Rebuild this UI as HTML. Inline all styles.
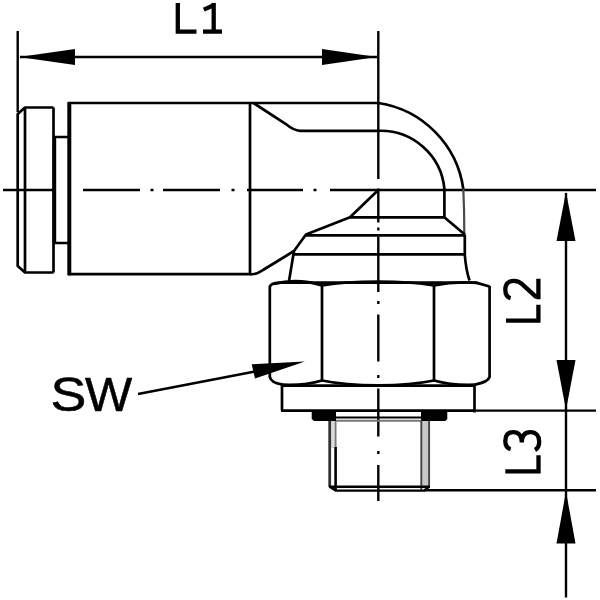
<!DOCTYPE html>
<html>
<head>
<meta charset="utf-8">
<title>Elbow fitting dimension drawing</title>
<style>
  html, body { margin: 0; padding: 0; background: #ffffff; }
  body { width: 600px; height: 600px; overflow: hidden; font-family: "Liberation Sans", sans-serif; }
  svg { display: block; position: absolute; left: 0; top: 0; filter: blur(0.35px); }
  .o { fill: none; stroke: #000; stroke-width: 2.7; stroke-linecap: butt; stroke-linejoin: round; }
  .d { fill: none; stroke: #000; stroke-width: 2.4; stroke-linecap: butt; }
  .t { fill: none; stroke: #000; stroke-width: 4.3; stroke-linecap: butt; stroke-linejoin: miter; }
  .g { fill: none; stroke: #6e6e6e; stroke-width: 2; }
  .k { fill: #000; stroke: none; }
  text { font-family: "Liberation Sans", sans-serif; fill: #000; }
</style>
</head>
<body>
<svg width="600" height="600" viewBox="0 0 600 600">
  <rect x="0" y="0" width="600" height="600" fill="#ffffff"/>

  <!-- ===== L1 dimension ===== -->
  <g id="dimL1">
    <path class="d" d="M17.7,31 V112"/>
    <path class="d" d="M20,57 H377"/>
    <path class="k" d="M19,57 L75,49 L75,65 Z"/>
    <path class="k" d="M377,57 L322,49 L322,65 Z"/>
    <!-- L -->
    <path class="t" d="M177.8,2.9 V31.6 H196.5"/>
    <!-- 1 -->
    <path class="t" d="M213.7,2.9 V31.6"/>
    <path class="t" d="M203,31.6 H222"/>
    <path class="t" d="M203.8,9.6 L213.7,5.2"/>
  </g>

  <!-- ===== centre lines ===== -->
  <g id="centre">
    <!-- horizontal -->
    <path class="d" d="M3,190 H55 M83,190 H140 M150.5,190 H153.5 M163,190 H220 M231.5,190 H234.5 M247,190 H303 M313.5,190 H316.5 M330,190 H596"/>
    <!-- vertical -->
    <path class="d" d="M378.3,31 V179 M378.3,188.5 V222.5 M378.3,227.5 V230.5 M378.3,236.5 V292 M378.3,301 V304 M378.3,314.5 V361.5 M378.3,375 V378 M378.3,388.5 V436.5 M378.3,451 V454 M378.3,465 V501"/>
  </g>

  <!-- ===== collar (release ring) ===== -->
  <g id="collar">
    <path class="o" d="M53.5,107.5 H25 L17.7,114 V266 L25,272.5 H53.5"/>
    <path class="o" d="M25,107.5 V272.5"/>
    <path class="o" d="M53.5,107.5 V272.5"/>
    <path class="o" style="stroke-width:3.4" d="M54.5,137 V243"/>
    <path class="o" d="M53.5,137 H68 M53.5,243 H68"/>
  </g>

  <!-- ===== main body ===== -->
  <g id="body">
    <path class="o" style="stroke-width:4" d="M69.3,102 V275.2"/>
    <path class="o" d="M68,103 H378.3"/>
    <path class="o" d="M68,274.2 H250"/>
    <path class="o" d="M250,103 V274.5"/>
    <!-- taper -->
    <path class="o" d="M253.5,103 L285.5,123.8 Q294,130.8 300,130.8 H378.3"/>
    <!-- lower transition from body to swivel -->
    <path class="o" d="M250,274.5 Q257,274.5 263,270 L294,251 L306,234.5 L350,217.3 L378.3,190"/>
  </g>

  <!-- ===== elbow ===== -->
  <g id="elbow">
    <path class="o" d="M378.3,103 A101,101 0 0 1 463.3,189"/>
    <path class="o" style="stroke:#4a4a4a;stroke-width:2.2" d="M463.3,188.5 Q464.3,210 464.3,234"/>
    <path class="o" d="M378.3,130.8 A64,64 0 0 1 444.4,189 V217.3"/>
    <path class="o" d="M350,217.3 H444.3 L464.8,234.5"/>
  </g>

  <!-- ===== swivel stem ===== -->
  <g id="stem">
    <path class="o" d="M306,235.3 H464.8"/>
    <path class="o" d="M294,254.3 H465.5"/>
    <path class="o" d="M464.8,234.5 V255 Q466,270 469.5,280.5"/>
    <path class="o" d="M294,251 L289,281"/>
  </g>

  <!-- ===== hex nut ===== -->
  <g id="nut">
    <path class="o" d="M269.8,286 V377.5"/>
    <path class="o" d="M489.6,286 V377.5"/>
    <path class="o" d="M322,285 V381"/>
    <path class="o" d="M434,285 V381"/>
    <!-- top edge -->
    <path class="o" d="M269.8,286.5 Q271,283.3 279,282.6 H476 L489.6,286.5"/>
    <path class="o" d="M274,284 Q297,277.5 322,285.5 Q345,281.5 378,281.5 Q411,281.5 434,285.5 Q455,281 478,283"/>
    <!-- bottom edge -->
    <path class="o" d="M269.8,377 Q271,383 283,384.6"/>
    <path class="o" d="M489.6,377 Q488,382 475,384.6"/>
    <path class="o" d="M283,384.6 Q305,385.5 322,380.5 Q345,385.3 378,385.3 Q411,385.3 434,380.5 Q452,385.5 475,384.6"/>
  </g>

  <!-- ===== flange ===== -->
  <g id="flange">
    <path class="o" d="M282,384.6 V410.6"/>
    <path class="o" d="M474.5,384.6 V412.5"/>
    <path class="o" d="M282,385.6 H474.5"/>
    <path class="o" style="stroke-width:2.6" d="M281,410.6 H475"/>
    <path class="d" d="M475,410.6 H596"/>
  </g>

  <!-- ===== seal + thread ===== -->
  <g id="thread">
    <path class="k" d="M311.7,410 H336 V421 H314 L311.7,419 Z"/>
    <path class="k" d="M421,410 H447.3 V419 L445.3,421 H421 Z"/>
    <path class="o" style="stroke-width:2" d="M336,417.5 H421.5"/>
    <path class="g" style="stroke:#777" d="M336,420.8 H421.5"/>
    <!-- left flank -->
    <rect x="330" y="421" width="5.5" height="27" fill="#dcdcdc"/>
    <path class="g" style="stroke:#333;stroke-width:2.8" d="M329.7,421 V487"/>
    <path class="g" style="stroke:#777;stroke-width:1.8" d="M335.6,421 V448"/>
    <path class="o" style="stroke-width:2.6" d="M335.6,447 V491"/>
    <!-- right flank -->
    <rect x="421.5" y="421" width="7.5" height="66" fill="#c9c9c9"/>
    <path class="g" style="stroke:#444;stroke-width:1.9" d="M421.3,421 V491"/>
    <path class="g" style="stroke:#444;stroke-width:1.9" d="M429.1,421 V487.5"/>
    <!-- bottom -->
    <path class="o" style="stroke-width:2.4" d="M329,486.7 H430"/>
    <path class="o" style="stroke-width:2.4" d="M329.7,486.7 L335.6,490.6 H424 L429.1,486.7"/>
    <path class="d" d="M424,490.2 H596"/>
  </g>

  <!-- ===== L2 / L3 dimensions ===== -->
  <g id="dimR">
    <path class="d" d="M566,193 V597.5"/>
    <path class="k" d="M566,192 L556.5,241 L575.5,241 Z"/>
    <path class="k" d="M566,410 L556.5,360 L575.5,360 Z"/>
    <path class="k" d="M566,491.5 L556.5,543.5 L575.5,543.5 Z"/>
    <!-- L2 -->
    <path class="t" d="M506,320.7 H538.4 V304.7"/>
    <path class="t" style="stroke-linejoin:bevel" d="M510.6,298.2 C506.2,297 505.3,293 505.3,289.5 C505.3,284 508.6,280.9 513.6,280.9 C517.6,280.9 520.2,282.2 522.6,284.6 L536.6,297.3 M538.4,299.3 V278.7"/>
    <!-- L3 -->
    <path class="t" d="M505.3,471.3 H538.5 V455.3"/>
    <path class="t" d="M510.6,449.2 C506.2,448 505.3,444 505.3,441 C505.3,435 508.2,432.1 513.2,432.1 C518.2,432.1 521.8,435.5 521.8,442.5 C521.8,435.5 525,432.1 530.6,432.1 C536,432.1 539.2,436 539.2,441.5 C539.2,446 537.6,448.6 535,450"/>
  </g>

  <!-- ===== SW leader ===== -->
  <g id="sw">
    <path class="d" d="M138,394 L255,371.5"/>
    <path class="k" d="M305,361.5 L251.7,364.2 L255,378.4 Z"/>
    <text transform="translate(50.6,411) scale(1.13,1)" font-size="47.6" stroke="#000" stroke-width="0.5">S</text>
    <text transform="translate(85.0,411) scale(1.05,1)" font-size="47.6" stroke="#000" stroke-width="0.5">W</text>
  </g>
</svg>
</body>
</html>
